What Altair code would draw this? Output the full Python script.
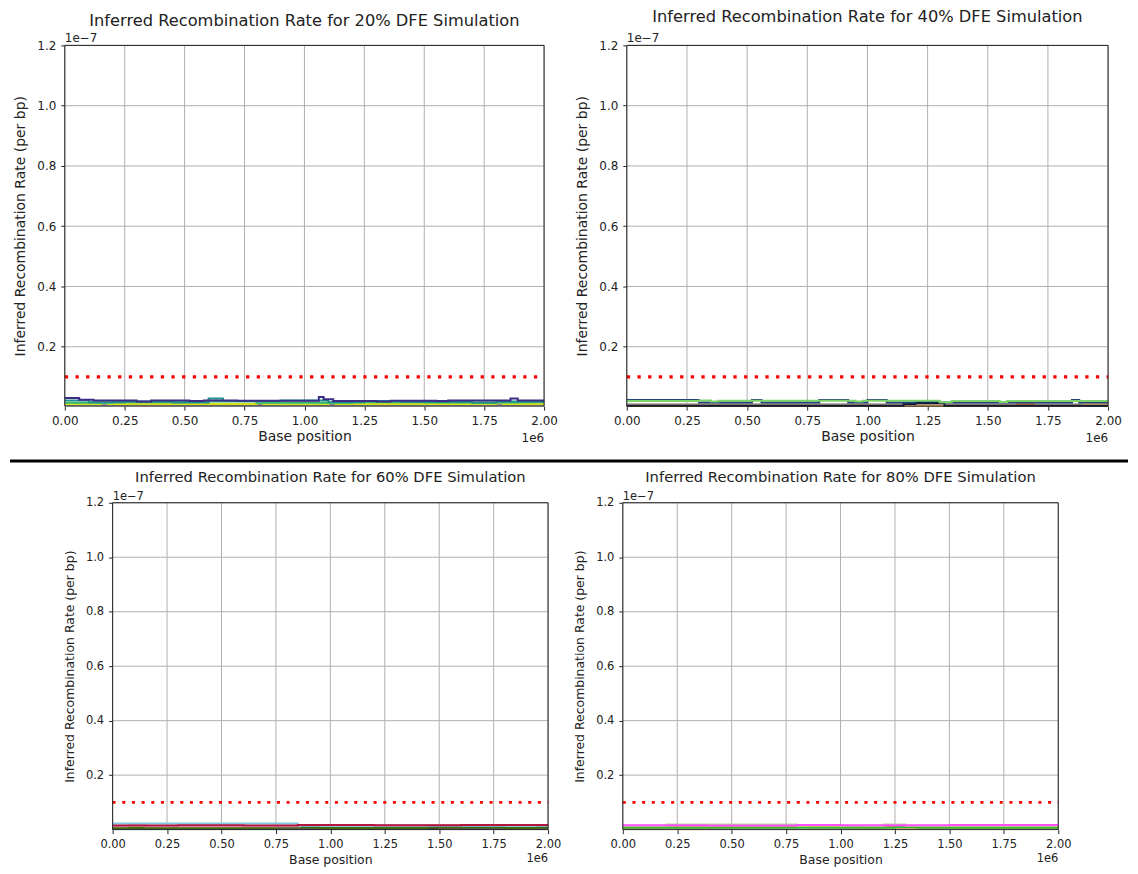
import altair as alt
import pandas as pd

FONT = "DejaVu Sans"

# ---------------- data (x in units of 1e6 bp, y in units of 1e-7 per bp) ----------------
# Panel 1: 20% DFE
p1_gray_x = [0.0, 2.0]
p1_gray_y = [0.007, 0.007]
p1_yellow_x = [0.0, 0.15, 0.18, 0.80, 0.83, 1.10, 1.13, 1.80, 1.83, 2.0]
p1_yellow_y = [0.010, 0.014, 0.010, 0.013, 0.010, 0.014, 0.010, 0.013, 0.010, 0.010]
p1_green_x = [0.0, 0.20, 0.50, 0.80, 1.20, 1.50, 1.90, 2.0]
p1_green_y = [0.014, 0.016, 0.018, 0.014, 0.016, 0.015, 0.016, 0.016]
p1_teal_x = [0.0, 0.10, 0.25, 0.45, 0.60, 0.66, 0.90, 1.10, 1.25, 1.40, 1.70, 1.80, 2.0]
p1_teal_y = [0.022, 0.016, 0.018, 0.015, 0.028, 0.020, 0.022, 0.016, 0.020, 0.017, 0.014, 0.018, 0.018]
p1_purple_x = [0.0, 0.06, 0.12, 0.30, 0.36, 0.52, 0.58, 0.72, 1.06, 1.08, 1.12, 1.30, 1.36, 1.55, 1.60, 1.86, 1.89, 2.0]
p1_purple_y = [0.030, 0.024, 0.022, 0.018, 0.022, 0.020, 0.022, 0.021, 0.033, 0.026, 0.020, 0.018, 0.021, 0.020, 0.022, 0.028, 0.022, 0.022]

# Panel 2: 40% DFE
p2_gray_x = [0.0, 2.0]
p2_gray_y = [0.009, 0.009]
p2_orange_x = [0.0, 1.62, 1.69, 2.0]
p2_orange_y = [0.004, 0.008, 0.004, 0.004]
p2_tan_x = [0.0, 1.90, 2.0]
p2_tan_y = [0.004, 0.010, 0.010]
p2_black_x = [0.0, 1.15, 1.20, 1.32, 2.0]
p2_black_y = [0.004, 0.010, 0.013, 0.004, 0.004]
p2_navy_x = [0.0, 0.30, 0.52, 0.56, 0.80, 0.92, 1.00, 1.08, 1.20, 1.30, 1.85, 1.88, 2.0]
p2_navy_y = [0.023, 0.015, 0.023, 0.015, 0.023, 0.015, 0.023, 0.015, 0.019, 0.015, 0.023, 0.015, 0.015]
p2_green_x = [0.0, 0.30, 0.35, 0.38, 0.95, 0.98, 1.30, 1.35, 1.55, 1.58, 2.0]
p2_green_y = [0.020, 0.022, 0.018, 0.021, 0.018, 0.021, 0.016, 0.020, 0.017, 0.020, 0.020]

# Panel 3: 60% DFE
p3_dark_x = [0.0, 2.0]
p3_dark_y = [0.004, 0.004]
p3_beige_x = [0.0, 0.50, 1.00, 1.50, 2.0]
p3_beige_y = [0.010, 0.009, 0.010, 0.009, 0.009]
p3_olive_x = [0.0, 0.75, 0.95, 1.45, 1.80, 1.95, 2.0]
p3_olive_y = [0.006, 0.009, 0.006, 0.009, 0.006, 0.009, 0.009]
p3_pink_x = [0.0, 0.07, 0.15, 0.80, 0.86, 2.0]
p3_pink_y = [0.012, 0.020, 0.012, 0.012, 0.017, 0.012]
p3_blue_x = [0.0, 0.85, 2.0]
p3_blue_y = [0.022, 0.014, 0.014]
p3_crimson_x = [0.0, 0.30, 0.60, 0.85, 1.20, 1.60, 2.0]
p3_crimson_y = [0.015, 0.016, 0.015, 0.017, 0.016, 0.017, 0.017]

# Panel 4: 80% DFE
p4_salmon_x = [0.0, 0.80, 0.85, 1.20, 1.25, 2.0]
p4_salmon_y = [0.008, 0.011, 0.008, 0.011, 0.008, 0.008]
p4_orange_x = [0.0, 0.75, 1.10, 2.0]
p4_orange_y = [0.008, 0.010, 0.008, 0.008]
p4_green_x = [0.0, 1.25, 1.35, 2.0]
p4_green_y = [0.007, 0.009, 0.007, 0.007]
p4_lgreen_x = [0.0, 0.20, 0.80, 1.20, 1.30, 2.0]
p4_lgreen_y = [0.014, 0.019, 0.014, 0.019, 0.014, 0.014]
p4_magenta_x = [0.0, 0.38, 0.80, 1.00, 1.50, 2.0]
p4_magenta_y = [0.016, 0.015, 0.017, 0.016, 0.017, 0.017]

series_colors = {
    "p1_gray": "#8c8c8c", "p1_yellow": "#d8e219", "p1_green": "#35b779",
    "p1_teal": "#21918c", "p1_purple": "#3b2c86",
    "p2_gray": "#9a9a9a", "p2_orange": "#c4541a", "p2_tan": "#e0b36a",
    "p2_black": "#0b1a3c", "p2_navy": "#24427a", "p2_green": "#7bd36a",
    "p3_dark": "#333333", "p3_beige": "#c9c3a0", "p3_olive": "#3d6b12",
    "p3_pink": "#f0a3c4", "p3_blue": "#82c6e0", "p3_crimson": "#b3163f",
    "p4_salmon": "#e06666", "p4_orange": "#e8a13e", "p4_green": "#34b834",
    "p4_lgreen": "#b2d88e", "p4_magenta": "#ff4fff",
}

panels = {
    "p1": [("p1_gray", p1_gray_x, p1_gray_y), ("p1_yellow", p1_yellow_x, p1_yellow_y),
           ("p1_green", p1_green_x, p1_green_y), ("p1_teal", p1_teal_x, p1_teal_y),
           ("p1_purple", p1_purple_x, p1_purple_y)],
    "p2": [("p2_gray", p2_gray_x, p2_gray_y), ("p2_orange", p2_orange_x, p2_orange_y),
           ("p2_tan", p2_tan_x, p2_tan_y), ("p2_black", p2_black_x, p2_black_y),
           ("p2_navy", p2_navy_x, p2_navy_y), ("p2_green", p2_green_x, p2_green_y)],
    "p3": [("p3_dark", p3_dark_x, p3_dark_y), ("p3_beige", p3_beige_x, p3_beige_y),
           ("p3_olive", p3_olive_x, p3_olive_y), ("p3_pink", p3_pink_x, p3_pink_y),
           ("p3_blue", p3_blue_x, p3_blue_y), ("p3_crimson", p3_crimson_x, p3_crimson_y)],
    "p4": [("p4_salmon", p4_salmon_x, p4_salmon_y), ("p4_orange", p4_orange_x, p4_orange_y),
           ("p4_green", p4_green_x, p4_green_y), ("p4_lgreen", p4_lgreen_x, p4_lgreen_y),
           ("p4_magenta", p4_magenta_x, p4_magenta_y)],
}

titles = {
    "p1": "Inferred Recombination Rate for 20% DFE Simulation",
    "p2": "Inferred Recombination Rate for 40% DFE Simulation",
    "p3": "Inferred Recombination Rate for 60% DFE Simulation",
    "p4": "Inferred Recombination Rate for 80% DFE Simulation",
}

true_rate = [0.1, 0.1]
true_x = [0.0, 2.0]
x_ticks = [0.0, 0.25, 0.5, 0.75, 1.0, 1.25, 1.5, 1.75, 2.0]
y_ticks = [0.2, 0.4, 0.6, 0.8, 1.0, 1.2]

color_domain = list(series_colors.keys())
color_range = list(series_colors.values())

# ---------------- layout (pixels) ----------------
W, H = 1122, 862
# panel: x-range, y-range(bottom, top), y-min, label size, title size, axis-title size, title y, dash
layout = {
    "p1": dict(xr=[55, 536], yr=[397, 35], ymin=0.003, lab=12, ttl=16.3, axt=14, ty=11, dash=(3.3, 7.4), e6=36),
    "p2": dict(xr=[619, 1102], yr=[397, 35], ymin=0.003, lab=12, ttl=16.3, axt=14, ty=7, dash=(3.3, 7.4), e6=36),
    "p3": dict(xr=[103, 540], yr=[822, 494], ymin=0.0, lab=11.5, ttl=14.8, axt=12.5, ty=469, dash=(3.0, 6.7), e6=33),
    "p4": dict(xr=[615, 1052], yr=[822, 494], ymin=0.0, lab=11.5, ttl=14.8, axt=12.5, ty=469, dash=(3.0, 6.7), e6=33),
}


def make_panel(key):
    L = layout[key]
    rows = []
    for name, xs, ys in panels[key]:
        for xv, yv in zip(xs, ys):
            rows.append({"series": name, "x": xv, "y": yv})
    df = pd.DataFrame(rows)
    x0, x1 = L["xr"]
    yb, yt = L["yr"]
    xscale = alt.Scale(domain=[0, 2], nice=False, zero=False, range=[x0, x1])
    yscale = alt.Scale(domain=[L["ymin"], 1.2], nice=False, zero=False, range=[yb, yt])
    xaxis = alt.Axis(values=x_ticks, format=".2f", title="Base position", orient="bottom",
                     offset=-(H - yb), grid=False, labelFontSize=L["lab"], titleFontSize=L["axt"],
                     labelPadding=5, titlePadding=4, labelFlush=False, labelOverlap=False)
    yaxis = alt.Axis(values=y_ticks, format=".1f", title="Inferred Recombination Rate (per bp)",
                     orient="left", offset=-x0, grid=False, labelFontSize=L["lab"],
                     titleFontSize=L["axt"], labelPadding=5, titlePadding=9, labelOverlap=False)
    X = lambda f: alt.X(f, scale=xscale, axis=xaxis)
    Y = lambda f: alt.Y(f, scale=yscale, axis=yaxis)

    xgrid_df = pd.DataFrame({"x": x_ticks, "ya": [L["ymin"]] * len(x_ticks), "yb": [1.2] * len(x_ticks)})
    ygrid_df = pd.DataFrame({"y": y_ticks, "xa": [0.0] * len(y_ticks), "xb": [2.0] * len(y_ticks)})
    xgrid = alt.Chart(xgrid_df).mark_rule(color="#b0b0b0", strokeWidth=1).encode(
        x=X("x:Q"), y=Y("ya:Q"), y2="yb:Q")
    ygrid = alt.Chart(ygrid_df).mark_rule(color="#b0b0b0", strokeWidth=1).encode(
        y=Y("y:Q"), x=X("xa:Q"), x2="xb:Q")

    tdf = pd.DataFrame({"x": true_x, "y": true_rate})
    truth = alt.Chart(tdf).mark_line(color="#ff0000", strokeWidth=L["dash"][0],
                                     strokeDash=[L["dash"][0], L["dash"][1]]).encode(
        x=X("x:Q"), y=Y("y:Q"))

    lines = alt.Chart(df).mark_line(interpolate="step-after", strokeWidth=2).encode(
        x=X("x:Q"), y=Y("y:Q"),
        color=alt.Color("series:N", scale=alt.Scale(domain=color_domain, range=color_range), legend=None),
        detail="series:N",
    )

    frame_df = pd.DataFrame({"xa": [0.0], "xb": [2.0], "ya": [L["ymin"]], "yb": [1.2]})
    frame = alt.Chart(frame_df).mark_rect(fillOpacity=0, stroke="#222", strokeWidth=1).encode(
        x=X("xa:Q"), x2="xb:Q", y=Y("ya:Q"), y2="yb:Q")

    txt = alt.Chart(pd.DataFrame({"t": [titles[key]]})).mark_text(
        align="center", baseline="middle", fontSize=L["ttl"], font=FONT, color="#222"
    ).encode(text="t:N", x=alt.value((x0 + x1) / 2), y=alt.value(L["ty"]))
    exp_y = alt.Chart(pd.DataFrame({"t": ["1e\u22127"]})).mark_text(
        align="left", baseline="alphabetic", fontSize=L["lab"], font=FONT, color="#222"
    ).encode(text="t:N", x=alt.value(x0), y=alt.value(yt - 3))
    exp_x = alt.Chart(pd.DataFrame({"t": ["1e6"]})).mark_text(
        align="right", baseline="alphabetic", fontSize=L["lab"], font=FONT, color="#222"
    ).encode(text="t:N", x=alt.value(x1), y=alt.value(yb + L["e6"]))

    return alt.layer(xgrid, ygrid, truth, lines, frame, txt, exp_y, exp_x)


sep = alt.Chart(pd.DataFrame({"a": [0]})).mark_rule(color="black", strokeWidth=3).encode(
    x=alt.value(0), x2=alt.value(W), y=alt.value(452)
)

chart = alt.layer(
    make_panel("p1"), make_panel("p2"), make_panel("p3"), make_panel("p4"), sep
).resolve_scale(
    x="independent", y="independent"
).resolve_axis(
    x="independent", y="independent"
).properties(
    width=W, height=H, padding=0
).configure(
    font=FONT
).configure_view(
    strokeWidth=0
).configure_axis(
    domain=False, tickColor="#222", tickSize=4, tickWidth=1,
    labelColor="#222", titleColor="#222", labelFont=FONT, titleFont=FONT,
    titleFontWeight="normal",
)

chart.save("out.html", embed_options={"renderer": "svg", "actions": False})
